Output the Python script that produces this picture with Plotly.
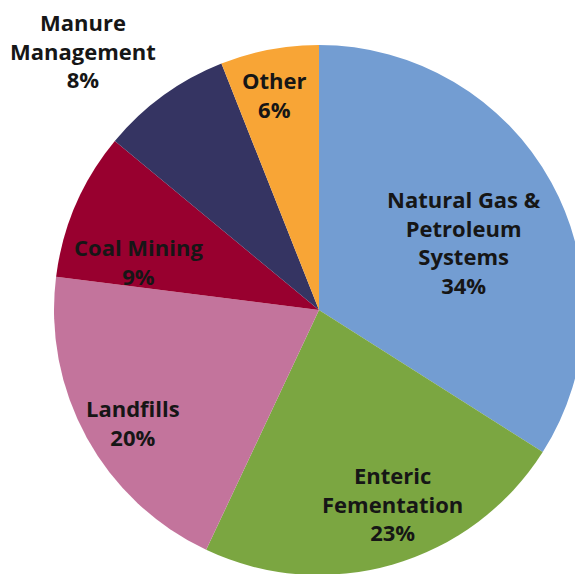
import plotly.graph_objects as go

# Methane emission sources, share of total (%)
sources = ["Natural Gas & Petroleum Systems", "Enteric Fementation", "Landfills",
           "Coal Mining", "Manure Management", "Other"]
shares = [34, 23, 20, 9, 8, 6]
label_lines = [["Natural Gas &", "Petroleum", "Systems"],
               ["Enteric", "Fementation"],
               ["Landfills"],
               ["Coal Mining"],
               ["Manure", "Management"],
               ["Other"]]
colors = ["#739dd2", "#7ba641", "#c3749c", "#98002f", "#353462", "#f8a536"]

W, H = 590, 580
# label anchor points in pixels (centre of text block)
label_pos = [(464, 242), (392, 503), (133, 422), (138, 261), (83, 50), (274, 95)]

fig = go.Figure(go.Pie(
    labels=sources,
    values=shares,
    marker=dict(colors=colors, line=dict(width=0)),
    sort=False,
    direction="clockwise",
    rotation=0,
    textinfo="none",
    hoverinfo="label+percent",
    domain=dict(x=[54 / W, 584 / W], y=[1 - 575 / H, 1 - 45 / H]),
    showlegend=False,
))

for lines, val, (px, py) in zip(label_lines, shares, label_pos):
    fig.add_annotation(
        x=px / W, y=1 - py / H, xref="paper", yref="paper",
        text="<br>".join(lines + [f"{val}%"]),
        showarrow=False, xanchor="center", yanchor="middle",
        font=dict(family="Open Sans", size=22, color="#161616", weight="bold"),
    )

fig.update_layout(
    width=W, height=H,
    margin=dict(l=0, r=0, t=0, b=0),
    paper_bgcolor="white", plot_bgcolor="white",
)

fig.write_html(
    "out.html",
    post_script="document.body.style.margin='0';document.body.style.overflow='hidden';"
                "document.documentElement.style.overflow='hidden';",
)
